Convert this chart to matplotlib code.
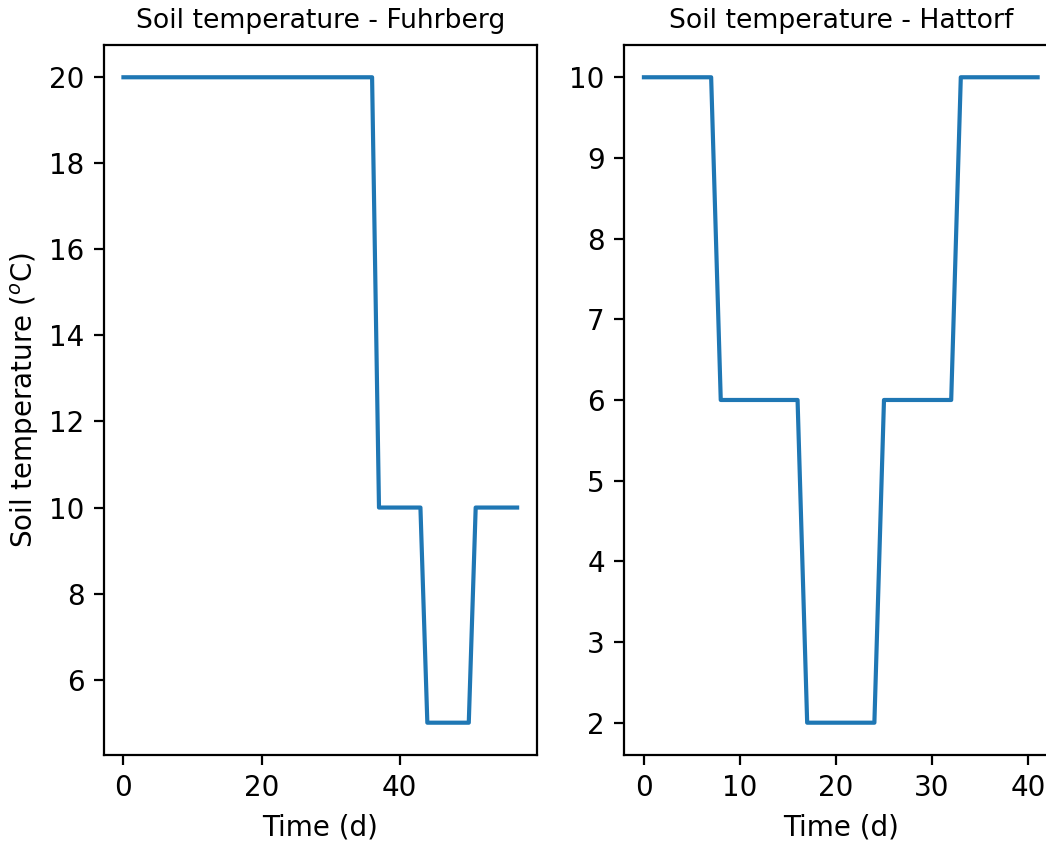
import matplotlib
matplotlib.use('Agg')
import matplotlib.pyplot as plt

# Fuhrberg soil temperature schedule (time in d, temperature in oC)
fuhr_time = [0, 36, 37, 43, 44, 50, 51, 57]
fuhr_temp = [20, 20, 10, 10, 5, 5, 10, 10]

# Hattorf soil temperature schedule
hatt_time = [0, 7, 8, 16, 17, 24, 25, 32, 33, 41]
hatt_temp = [10, 10, 6, 6, 2, 2, 6, 6, 10, 10]

fig = plt.figure(figsize=(5.23, 4.205), dpi=200)

# axes placed by hand, the right one runs past the figure edge like the original
ax1 = fig.add_axes([0.0992, 0.1023, 0.414, 0.8442])
ax2 = fig.add_axes([0.5968, 0.1023, 0.414, 0.8442])

ax1.plot(fuhr_time, fuhr_temp)
ax1.set_title('Soil temperature - Fuhrberg', fontsize=9.6)
ax1.set_xlabel('Time (d)')
ax1.set_ylabel('Soil temperature ($^o$C)', labelpad=3)

ax2.plot(hatt_time, hatt_temp)
ax2.set_title('Soil temperature - Hattorf', fontsize=9.6)
ax2.set_xlabel('Time (d)')

fig.savefig('out.png', dpi=200)
